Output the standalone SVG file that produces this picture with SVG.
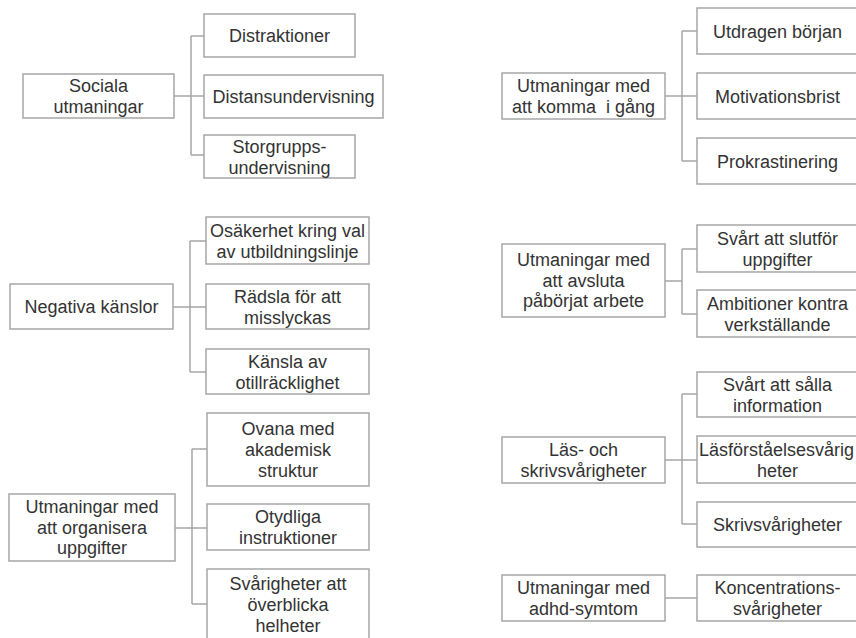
<svg xmlns="http://www.w3.org/2000/svg" width="856" height="638" viewBox="0 0 856 638">
<style>
.box{fill:#fff;stroke:#a6a6a6;stroke-width:1.5}
.lbl{font-family:"Liberation Sans",Arial,sans-serif;font-size:18px;fill:#333;text-anchor:middle}
.con{fill:none;stroke:#a6a6a6;stroke-width:1.5}
</style>
<rect width="856" height="638" fill="#fff"/>
<g id="connectors">
<path class="con" d="M174 96H204M191 36V155M191 36H204M191 155H204"/>
<path class="con" d="M173 307H206M190 241V372M190 241H206M190 372H206"/>
<path class="con" d="M175 528H207M192 449V604M192 449H207M192 604H207"/>
<path class="con" d="M665 96H697M682 31V161M682 31H697M682 161H697"/>
<path class="con" d="M665 281H682M682 249V314M682 249H697M682 314H697"/>
<path class="con" d="M665 460H697M682 394V524M682 394H697M682 524H697"/>
<path class="con" d="M665 598H697"/>
</g>
<g id="sociala"><rect class="box" x="23" y="74" width="151" height="44"/><text class="lbl" x="98.5" y="92">Sociala</text><text class="lbl" x="98.5" y="113">utmaningar</text></g>
<g id="distraktioner"><rect class="box" x="204" y="14" width="151" height="43"/><text class="lbl" x="279.5" y="42">Distraktioner</text></g>
<g id="distans"><rect class="box" x="204" y="75" width="179" height="43"/><text class="lbl" x="293.5" y="103">Distansundervisning</text></g>
<g id="storgrupps"><rect class="box" x="204" y="135" width="151" height="43"/><text class="lbl" x="279.5" y="152.5">Storgrupps-</text><text class="lbl" x="279.5" y="173.5">undervisning</text></g>

<g id="negativa"><rect class="box" x="10" y="284" width="163" height="45"/><text class="lbl" x="91.5" y="313">Negativa känslor</text></g>
<g id="osakerhet"><rect class="box" x="206" y="217" width="163" height="47"/><text class="lbl" x="287.5" y="236.5">Osäkerhet kring val</text><text class="lbl" x="287.5" y="257.5">av utbildningslinje</text></g>
<g id="radsla"><rect class="box" x="206" y="284" width="163" height="45"/><text class="lbl" x="287.5" y="302.5">Rädsla för att</text><text class="lbl" x="287.5" y="323.5">misslyckas</text></g>
<g id="kansla"><rect class="box" x="206" y="349" width="163" height="45"/><text class="lbl" x="287.5" y="367.5">Känsla av</text><text class="lbl" x="287.5" y="388.5">otillräcklighet</text></g>

<g id="organisera"><rect class="box" x="9" y="494" width="166" height="67"/><text class="lbl" x="92" y="513">Utmaningar med</text><text class="lbl" x="92" y="533.5">att organisera</text><text class="lbl" x="92" y="554">uppgifter</text></g>
<g id="ovana"><rect class="box" x="207" y="413" width="162" height="73"/><text class="lbl" x="288" y="435">Ovana med</text><text class="lbl" x="288" y="456">akademisk</text><text class="lbl" x="288" y="477">struktur</text></g>
<g id="otydliga"><rect class="box" x="207" y="504" width="162" height="46"/><text class="lbl" x="288" y="523">Otydliga</text><text class="lbl" x="288" y="544">instruktioner</text></g>
<g id="svarigheter"><rect class="box" x="207" y="569" width="162" height="73"/><text class="lbl" x="288" y="590">Svårigheter att</text><text class="lbl" x="288" y="611">överblicka</text><text class="lbl" x="288" y="632">helheter</text></g>

<g id="komma"><rect class="box" x="502" y="73" width="163" height="46"/><text class="lbl" x="583.5" y="92">Utmaningar med</text><text class="lbl" x="583.5" y="113" xml:space="preserve">att komma  i gång</text></g>
<g id="utdragen"><rect class="box" x="697" y="8" width="164" height="46"/><text class="lbl" x="777.5" y="37.5">Utdragen början</text></g>
<g id="motivation"><rect class="box" x="697" y="73" width="164" height="46"/><text class="lbl" x="777.5" y="102.5">Motivationsbrist</text></g>
<g id="prokrast"><rect class="box" x="697" y="138" width="164" height="46"/><text class="lbl" x="777.5" y="167.5">Prokrastinering</text></g>

<g id="avsluta"><rect class="box" x="502" y="244" width="163" height="73"/><text class="lbl" x="583.5" y="266">Utmaningar med</text><text class="lbl" x="583.5" y="286.5">att avsluta</text><text class="lbl" x="583.5" y="307">påbörjat arbete</text></g>
<g id="slutfor"><rect class="box" x="697" y="225" width="164" height="47"/><text class="lbl" x="777.5" y="244.5">Svårt att slutför</text><text class="lbl" x="777.5" y="265.5">uppgifter</text></g>
<g id="ambitioner"><rect class="box" x="697" y="290" width="164" height="47"/><text class="lbl" x="777.5" y="309.5">Ambitioner kontra</text><text class="lbl" x="777.5" y="330.5">verkställande</text></g>

<g id="las"><rect class="box" x="502" y="437" width="163" height="46"/><text class="lbl" x="583.5" y="456">Läs- och</text><text class="lbl" x="583.5" y="477">skrivsvårigheter</text></g>
<g id="salla"><rect class="box" x="697" y="372" width="164" height="45"/><text class="lbl" x="777.5" y="390.5">Svårt att sålla</text><text class="lbl" x="777.5" y="411.5">information</text></g>
<g id="lasforst"><rect class="box" x="697" y="436" width="164" height="47"/><text class="lbl" x="699" y="455.5" style="text-anchor:start">Läsförståelsesvårig</text><text class="lbl" x="777.5" y="476.5">heter</text></g>
<g id="skriv"><rect class="box" x="697" y="502" width="164" height="45"/><text class="lbl" x="777.5" y="531">Skrivsvårigheter</text></g>

<g id="adhd"><rect class="box" x="502" y="575" width="163" height="46"/><text class="lbl" x="583.5" y="594">Utmaningar med</text><text class="lbl" x="583.5" y="615">adhd-symtom</text></g>
<g id="koncentration"><rect class="box" x="697" y="575" width="164" height="46"/><text class="lbl" x="777.5" y="594">Koncentrations-</text><text class="lbl" x="777.5" y="615">svårigheter</text></g>
</svg>
